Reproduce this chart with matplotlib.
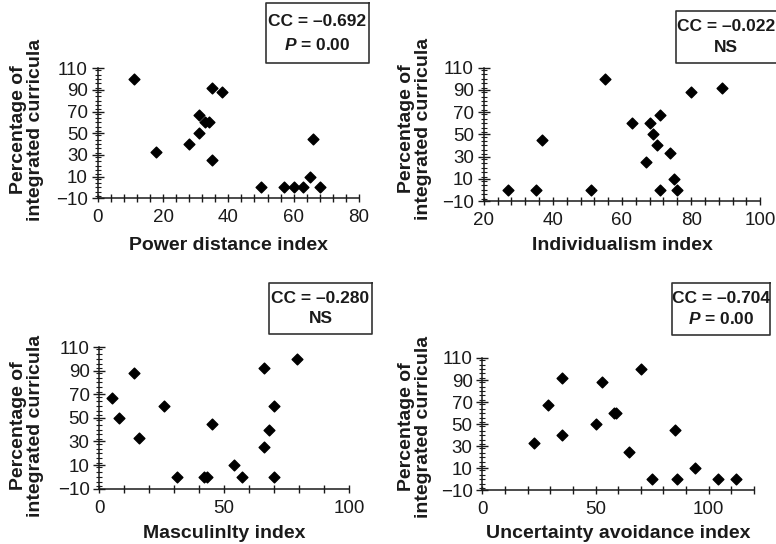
import matplotlib
matplotlib.use('Agg')
import matplotlib.pyplot as plt
from matplotlib.lines import Line2D
from matplotlib.ticker import MultipleLocator

plt.rcParams['font.family'] = ['Liberation Sans', 'DejaVu Sans']
plt.rcParams['mathtext.fontset'] = 'custom'
plt.rcParams['mathtext.it'] = 'Liberation Sans:italic:bold'
plt.rcParams['mathtext.rm'] = 'Liberation Sans:bold'

# Percentage of integrated curricula against each cultural index
power_x = [11, 18, 28, 31, 31, 33, 34, 35, 35, 38, 50, 57, 60, 63, 65, 66, 68]
power_y = [100, 33, 40, 67, 50, 60, 60, 92, 25, 88, 0, 0, 0, 0, 10, 45, 0]

indiv_x = [27, 35, 37, 51, 55, 63, 67, 68, 69, 70, 71, 71, 74, 75, 76, 80, 89]
indiv_y = [0, 0, 45, 0, 100, 60, 25, 60, 50, 40, 67, 0, 33, 10, 0, 88, 92]

masc_x = [5, 8, 14, 16, 26, 31, 42, 43, 45, 54, 57, 66, 66, 68, 70, 70, 79]
masc_y = [67, 50, 88, 33, 60, 0, 0, 0, 45, 10, 0, 92, 25, 40, 60, 0, 100]

unc_x = [23, 29, 35, 35, 50, 53, 58, 59, 65, 70, 75, 85, 86, 94, 104, 112]
unc_y = [33, 67, 92, 40, 50, 88, 60, 60, 25, 100, 0, 45, 0, 10, 0, 0]

x_labels = ['Power distance index', 'Individualism index',
            'Masculinlty index', 'Uncertainty avoidance index']
cc_text = ['CC = \u20130.692', 'CC = \u20130.022', 'CC = \u20130.280', 'CC = \u20130.704']
p_text = ['$P$ = 0.00', 'NS', 'NS', '$P$ = 0.00']

W, H = 776, 544
fig = plt.figure(figsize=(W / 100, H / 100), dpi=100)

def px_axes(x0, x1, ytop, ybot):
    return fig.add_axes([x0 / W, 1 - ybot / H, (x1 - x0) / W, (ybot - ytop) / H])

# axes rectangles in pixels: left, right, top(110), bottom(-10)
panels = [
    (px_axes(97.7, 359, 68.3, 198.3), power_x, power_y, (0, 80), 20, 4),
    (px_axes(483.7, 760.3, 67.7, 201), indiv_x, indiv_y, (20, 100), 20, 4),
    (px_axes(99.3, 349, 347, 488.7), masc_x, masc_y, (0, 100), 50, 10),
    (px_axes(482.3, 754, 358, 490.3), unc_x, unc_y, (0, 120), 50, 10),
]

ylab_pos = [(27, 130), (415, 129), (27, 426), (415, 427)]
xlab_y = [245, 245, 534, 534]
boxes = [(266, 369, 3, 63), (675.7, 800, 11, 63), (269, 372, 283, 334), (672, 770, 283, 335)]
box_cx = [317.5, 726, 320.5, 721]

dark = '#1a1a1a'
for i, (ax, xs, ys, xlim, major, minor) in enumerate(panels):
    ax.scatter(xs, ys, marker='D', s=30, color='black', zorder=3, clip_on=False)
    ax.set_xlim(*xlim)
    ax.set_ylim(-10, 110)
    for s in ['top', 'right']:
        ax.spines[s].set_visible(False)
    for s in ['left', 'bottom']:
        ax.spines[s].set_linewidth(1.1)
        ax.spines[s].set_color(dark)
    ax.xaxis.set_major_locator(MultipleLocator(major))
    ax.xaxis.set_minor_locator(MultipleLocator(minor))
    ax.yaxis.set_minor_locator(MultipleLocator(4))
    ax.set_yticks(range(-10, 111, 20))
    ax.tick_params(axis='x', which='both', direction='inout', length=6, width=1, color=dark)
    ax.tick_params(axis='y', which='major', direction='inout', length=8, width=1, color=dark)
    ax.tick_params(axis='y', which='minor', direction='inout', length=5, width=0.8, color=dark)
    ax.tick_params(axis='both', which='major', labelsize=13.5, labelcolor=dark)
    ax.tick_params(axis='x', which='major', pad=5)
    ax.tick_params(axis='y', which='major', pad=3)
    ax.set_yticklabels(['\u221210' if v < 0 else str(v) for v in range(-10, 111, 20)])

    lx, ly = ylab_pos[i]
    fig.text(lx / W, 1 - ly / H, 'Percentage of\nintegrated curricula', rotation=90,
             ha='center', va='center', fontsize=14, fontweight='bold', color=dark,
             linespacing=1.0)
    bb = ax.get_position()
    fig.text((bb.x0 + bb.x1) / 2, 1 - xlab_y[i] / H, x_labels[i], ha='center',
             va='center', fontsize=14, fontweight='bold', color=dark)

    # statistics box (open on the right when it runs off the page)
    bx0, bx1, by0, by1 = boxes[i]
    px = [bx1, bx0, bx0, bx1] + ([bx1] if bx1 <= W else [])
    py = [by0, by0, by1, by1] + ([by0] if bx1 <= W else [])
    fig.add_artist(Line2D([v / W for v in px], [1 - v / H for v in py],
                          transform=fig.transFigure, color='#333333', linewidth=1.2))
    cx = box_cx[i]
    fig.text(cx / W, 1 - (by0 + (by1 - by0) * 0.3) / H, cc_text[i], ha='center',
             va='center', fontsize=12.5, fontweight='bold', color=dark)
    fig.text(cx / W, 1 - (by0 + (by1 - by0) * 0.7) / H, p_text[i], ha='center',
             va='center', fontsize=12.5, fontweight='bold', color=dark)

fig.savefig('out.png', dpi=100)
